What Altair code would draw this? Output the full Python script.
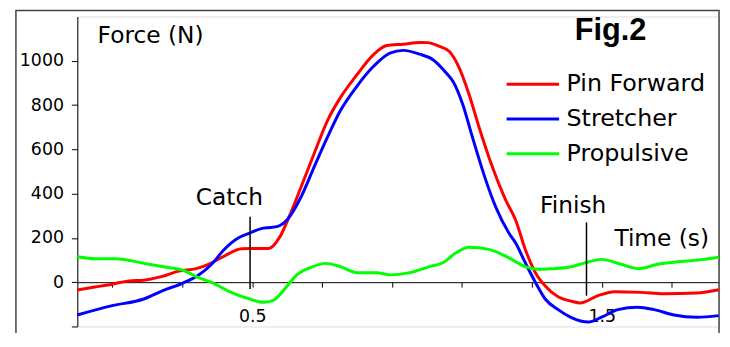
import altair as alt
import pandas as pd

# ---- data ----
series_names = ["Pin Forward", "Stretcher", "Propulsive"]
series_colors = ["#FF0000", "#0000FF", "#00FF00"]

pin_t = [0.00, 0.05, 0.10, 0.148, 0.19, 0.24, 0.29, 0.34, 0.38, 0.42, 0.47, 0.50, 0.547,
         0.58, 0.61, 0.64, 0.677, 0.715, 0.752, 0.80, 0.847, 0.885, 0.932, 0.979, 1.00,
         1.036, 1.064, 1.092, 1.12, 1.149, 1.187, 1.225, 1.253, 1.281, 1.31, 1.338, 1.376,
         1.413, 1.437, 1.489, 1.536, 1.612, 1.678, 1.772, 1.834]
pin_f = [-35, -22, -9, 6, 9, 25, 50, 61, 84, 118, 151, 152, 152,
         207, 312, 431, 580, 729, 833, 938, 1028, 1069, 1075, 1083, 1082,
         1065, 1042, 968, 849, 699, 520, 371, 282, 148, 43, -17, -67,
         -86, -94, -61, -43, -46, -52, -49, -34]

str_t = [0.00, 0.10, 0.19, 0.243, 0.30, 0.346, 0.384, 0.42, 0.46, 0.493, 0.526, 0.55,
         0.573, 0.60, 0.64, 0.677, 0.715, 0.752, 0.80, 0.847, 0.894, 0.932, 0.979, 1.017,
         1.055, 1.074, 1.102, 1.13, 1.168, 1.196, 1.234, 1.253, 1.281, 1.31, 1.338, 1.376,
         1.413, 1.461, 1.499, 1.546, 1.602, 1.65, 1.706, 1.772, 1.834]
str_f = [-148, -106, -76, -39, -5, 31, 81, 148, 200, 222, 242, 247,
         252, 282, 386, 520, 654, 774, 886, 975, 1035, 1047, 1030, 1005,
         945, 908, 804, 654, 461, 341, 222, 178, 88, -1, -76, -125,
         -160, -180, -158, -124, -113, -124, -148, -158, -151]

pro_t = [0.00, 0.054, 0.11, 0.195, 0.26, 0.30, 0.346, 0.384, 0.44, 0.493, 0.533, 0.56,
         0.58, 0.60, 0.63, 0.667, 0.71, 0.752, 0.80, 0.856, 0.894, 0.951, 1.007, 1.045,
         1.083, 1.12, 1.177, 1.234, 1.281, 1.319, 1.357, 1.413, 1.447, 1.499, 1.555,
         1.607, 1.659, 1.725, 1.791, 1.834]
pro_f = [115, 106, 106, 84, 66, 55, 21, -1, -46, -76, -91, -82,
         -55, -17, 36, 66, 85, 70, 43, 43, 33, 43, 70, 88,
         133, 158, 148, 110, 70, 58, 61, 70, 85, 103, 81,
         61, 81, 93, 103, 113]

y_ticks = [-200, 0, 200, 400, 600, 800, 1000]
x_ticks = [0.1, 0.2, 0.3, 0.4, 0.5, 0.6, 0.7, 0.8, 0.9, 1.0,
           1.1, 1.2, 1.3, 1.4, 1.5, 1.6, 1.7, 1.8]
x_labelled = ["0.5", "1.0", "1.5"]

events = ["Catch", "Finish"]
event_t = [0.494, 1.456]
event_top = [296, 270]
event_bottom = [-31, -61]
event_label_t = [0.435, 1.418]
event_label_f = [349, 313]

FONT = "DejaVu Sans"
W, H = 648, 313
Y_DOM = [-200, 1200]
X_DOM = [0, 1.835]

rows = []
for name, ts, fs in zip(series_names, [pin_t, str_t, pro_t], [pin_f, str_f, pro_f]):
    for t, f in zip(ts, fs):
        rows.append({"series": name, "t": t, "force": f})
df = pd.DataFrame(rows)

xs = alt.Scale(domain=X_DOM, nice=False, zero=False)
ys = alt.Scale(domain=Y_DOM, nice=False, zero=False)

x_axis = alt.Axis(
    values=x_ticks, offset=-H * 200 / 1400, tickSize=5, labelPadding=21,
    format=".1f", labelExpr="indexof(%s, datum.label) >= 0 ? datum.label : ''" % str(x_labelled),
    labelOverlap=False, labelFlush=False, title=None, grid=False,
    domainColor="black", tickColor="black", labelColor="black",
    labelFontSize=17.5, labelFont=FONT,
)
y_axis = alt.Axis(
    values=y_ticks, tickSize=6, labelPadding=8, format="d",
    labelExpr="datum.value == -200 ? '' : datum.label",
    labelOverlap=False, labelFlush=False, title=None, grid=False,
    domainColor="black", tickColor="black", labelColor="black",
    labelFontSize=17.5, labelFont=FONT,
)

frame = alt.Chart(pd.DataFrame({"a": [0]})).mark_rect(
    fill=None, stroke="#444444", strokeWidth=1.5, clip=False
).encode(x=alt.value(-62), x2=alt.value(W), y=alt.value(-6), y2=alt.value(400))

lines = alt.Chart(df).mark_line(interpolate="monotone", strokeWidth=3).encode(
    x=alt.X("t:Q", scale=xs, axis=x_axis),
    y=alt.Y("force:Q", scale=ys, axis=y_axis),
    color=alt.Color(
        "series:N",
        scale=alt.Scale(domain=series_names, range=series_colors),
        legend=alt.Legend(
            orient="none", legendX=432, legendY=51, title=None,
            symbolType="stroke", symbolSize=2809, symbolStrokeWidth=3,
            labelFontSize=24, labelFont=FONT, labelColor="black",
            labelOffset=6, rowPadding=0, padding=0, clipHeight=35,
        ),
    ),
    order="t:Q",
)

ev = pd.DataFrame({"name": events, "t": event_t, "top": event_top, "bottom": event_bottom,
                   "lt": event_label_t, "lf": event_label_f})
ev_rules = alt.Chart(ev).mark_rule(color="black", strokeWidth=1.5).encode(
    x=alt.X("t:Q", scale=xs), y=alt.Y("top:Q", scale=ys), y2="bottom:Q")
ev_text = alt.Chart(ev).mark_text(font=FONT, fontSize=23.5, baseline="alphabetic",
                                  align="center", color="black").encode(
    x=alt.X("lt:Q", scale=xs), y=alt.Y("lf:Q", scale=ys), text="name:N")

titles = pd.DataFrame({
    "label": ["Force (N)", "Time (s)"],
    "t": [0.058, 1.671],
    "f": [1080, 162],
})
force_text = alt.Chart(titles.iloc[[0]]).mark_text(
    font=FONT, fontSize=23.5, align="left", baseline="alphabetic", color="black"
).encode(x=alt.X("t:Q", scale=xs), y=alt.Y("f:Q", scale=ys), text="label:N")
time_text = alt.Chart(titles.iloc[[1]]).mark_text(
    font=FONT, fontSize=23.5, align="center", baseline="alphabetic", color="black"
).encode(x=alt.X("t:Q", scale=xs), y=alt.Y("f:Q", scale=ys), text="label:N")

fig = pd.DataFrame({"label": ["Fig.2"], "t": [1.525], "f": [1095]})
fig_text = alt.Chart(fig).mark_text(
    font="Liberation Sans", fontWeight="bold", fontSize=31, align="center",
    baseline="alphabetic", color="black"
).encode(x=alt.X("t:Q", scale=xs), y=alt.Y("f:Q", scale=ys), text="label:N")

chart = alt.layer(frame, lines, ev_rules, ev_text, force_text, time_text, fig_text).properties(
    width=W, height=H,
    autosize=alt.AutoSizeParams(type="none"),
    padding={"left": 70, "top": 7, "right": 3, "bottom": 5},
).configure_view(strokeWidth=0).configure(font=FONT)

chart.save("out.html", embed_options={"renderer": "svg", "actions": False})
